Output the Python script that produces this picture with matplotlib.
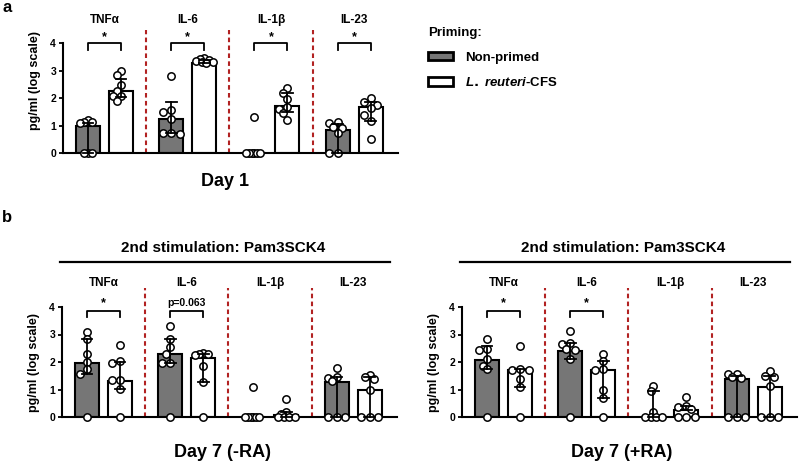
import numpy as np
import matplotlib.pyplot as plt
from matplotlib.patches import Patch

plt.rcParams['font.family'] = ['Liberation Sans', 'DejaVu Sans']
plt.rcParams['font.weight'] = 'bold'
plt.rcParams['axes.labelweight'] = 'bold'
plt.rcParams['mathtext.fontset'] = 'custom'
plt.rcParams['mathtext.it'] = 'Liberation Sans:italic:bold'

cytokines = ['TNFα', 'IL-6', 'IL-1β', 'IL-23']

# panel a : Day 1
a_np_pts = [[1.2, 1.14, 1.12, 1.1, 0, 0, 0],
            [2.81, 1.56, 1.5, 1.22, 0.72, 0.72, 0.7],
            [1.3, 0, 0, 0, 0, 0, 0],
            [1.14, 1.08, 0.94, 0.92, 0.72, 0, 0]]
a_np_bar = [0.99, 1.22, 0.0, 0.84]
a_np_lo = [0, 0.72, 0, 0]
a_np_hi = [1.08, 1.87, 0, 1.04]
a_cf_pts = [[2.99, 2.84, 2.47, 2.27, 2.08, 2.06, 1.9],
            [3.45, 3.42, 3.38, 3.35, 3.32, 3.3, 3.27],
            [2.35, 2.17, 1.95, 1.67, 1.6, 1.44, 1.2],
            [1.99, 1.87, 1.75, 1.63, 1.38, 1.17, 0.5]]
a_cf_bar = [2.25, 3.28, 1.71, 1.66]
a_cf_lo = [2.05, 3.28, 1.5, 1.17]
a_cf_hi = [2.68, 3.38, 2.17, 1.87]
a_sig = ['*', '*', '*', '*']

# panel b left : Day 7 (-RA)
m_np_pts = [[3.08, 2.82, 2.28, 2.01, 1.75, 1.56, 0],
            [3.31, 2.82, 2.55, 2.3, 1.98, 1.95, 0],
            [1.08, 0, 0, 0, 0, 0, 0],
            [1.77, 1.47, 1.42, 1.31, 0, 0, 0]]
m_np_bar = [1.97, 2.28, 0, 1.28]
m_np_lo = [1.56, 1.97, 0, 0]
m_np_hi = [2.82, 2.82, 0, 1.45]
m_cf_pts = [[2.62, 2.02, 1.98, 1.36, 1.33, 1.02, 0],
            [2.34, 2.3, 2.28, 2.26, 1.85, 1.28, 0],
            [0.65, 0.17, 0.1, 0, 0, 0, 0],
            [1.54, 1.45, 1.39, 1.0, 0, 0, 0]]
m_cf_bar = [1.31, 2.14, 0.08, 1.0]
m_cf_lo = [1.02, 1.28, 0, 0]
m_cf_hi = [2.0, 2.28, 0.17, 1.45]
m_sig = ['*', 'p=0.063', '', '']

# panel b right : Day 7 (+RA)
p_np_pts = [[2.84, 2.48, 2.45, 2.1, 1.87, 1.75, 0],
            [3.14, 2.7, 2.66, 2.46, 2.44, 2.1, 0],
            [1.13, 0.95, 0.2, 0, 0, 0, 0],
            [1.58, 1.57, 1.45, 1.42, 0, 0, 0]]
p_np_bar = [2.07, 2.41, 0, 1.38]
p_np_lo = [1.75, 2.1, 0, 0]
p_np_hi = [2.59, 2.7, 0.95, 1.5]
p_cf_pts = [[2.59, 1.74, 1.72, 1.7, 1.38, 1.08, 0],
            [2.28, 2.02, 1.75, 1.72, 1.0, 0.7, 0],
            [0.74, 0.4, 0.38, 0.3, 0, 0, 0],
            [1.68, 1.5, 1.46, 1.13, 0, 0, 0]]
p_cf_bar = [1.71, 1.71, 0.27, 1.08]
p_cf_lo = [1.1, 0.7, 0.25, 0]
p_cf_hi = [1.73, 2.02, 0.4, 1.5]
p_sig = ['*', '*', '', '']

GRAY = '#767676'
RED = '#b22222'
SPACING = 2.52
XPX, YPX = 33.0, 27.5  # pixels per data unit (for the swarm layout)


def swarm(vals, step=0.2, min_d=7.0, max_off=0.26):
    # simple beeswarm: centre first, then alternate left / right,
    # squeezed so that the widest row stays inside the bar
    offs = [0.0]
    for k in range(1, 10):
        offs += [-k * step, k * step]
    placed = []
    res = [0.0] * len(vals)
    for i in sorted(range(len(vals)), key=lambda k: -vals[k]):
        v = vals[i]
        for o in offs:
            if all(np.hypot((o - px) * XPX, (v - py) * YPX) >= min_d for px, py in placed):
                break
        placed.append((o, v))
        res[i] = o
    res = np.array(res)
    widest = np.abs(res).max()
    if widest > max_off:
        res = res * max_off / widest
    return res


def draw_group(ax, x, pts, bar, lo, hi, color):
    ax.bar(x, bar, width=0.73, color=color, edgecolor='black', linewidth=1.5, zorder=1)
    xs = x + swarm(pts)
    ax.plot(xs, pts, 'o', ms=5.3, mfc='white', mec='black', mew=1.1, zorder=3, clip_on=False)
    if hi > lo:
        ax.plot([x, x], [lo, hi], color='black', lw=1.3, zorder=4, clip_on=False)
        ax.plot([x - 0.16, x + 0.16], [hi, hi], color='black', lw=1.3, zorder=4, clip_on=False)
        ax.plot([x - 0.16, x + 0.16], [lo, lo], color='black', lw=1.3, zorder=4, clip_on=False)


def draw_panel(ax, np_pts, np_bar, np_lo, np_hi, cf_pts, cf_bar, cf_lo, cf_hi, sig,
               br_y, br_drop, star_y, title_y, red_top, label_y):
    for i in range(4):
        xg = i * SPACING
        xw = xg + 1
        draw_group(ax, xg, np_pts[i], np_bar[i], np_lo[i], np_hi[i], GRAY)
        draw_group(ax, xw, cf_pts[i], cf_bar[i], cf_lo[i], cf_hi[i], 'white')
        ax.text(xg + 0.5, title_y, cytokines[i], ha='center', va='center', fontsize=8.5)
        if i < 3:
            xr = xw + (SPACING - 1) / 2
            ax.plot([xr, xr], [0, red_top], color=RED, lw=1.5, ls=(0, (2.2, 1.6)), clip_on=False)
        if sig[i]:
            ax.plot([xg, xg, xw, xw], [br_drop, br_y, br_y, br_drop], color='black', lw=1.3,
                    clip_on=False)
            fs = 9 if sig[i] == '*' else 7.5
            ax.text(xg + 0.5, star_y, sig[i], ha='center', va='center', fontsize=fs)
    ax.set_xlim(-0.76, 9.39)
    ax.set_ylim(0, 4)
    ax.set_yticks([0, 1, 2, 3, 4])
    ax.set_xticks([])
    ax.spines['top'].set_visible(False)
    ax.spines['right'].set_visible(False)
    ax.spines['left'].set_linewidth(1.5)
    ax.spines['bottom'].set_linewidth(1.5)
    ax.tick_params(axis='y', labelsize=7.5, width=1.3, length=3, pad=2)
    ax.set_ylabel('pg/ml (log scale)', fontsize=9)
    ax.yaxis.set_label_coords(-0.066, label_y)


fig = plt.figure(figsize=(8, 4.65), dpi=100)
W, H = 800.0, 465.0
ax_a = fig.add_axes([63 / W, 1 - 153 / H, 335 / W, 110 / H])
ax_m = fig.add_axes([62 / W, 1 - 417 / H, 335 / W, 110 / H])
ax_p = fig.add_axes([462 / W, 1 - 417 / H, 335 / W, 110 / H])

draw_panel(ax_a, a_np_pts, a_np_bar, a_np_lo, a_np_hi, a_cf_pts, a_cf_bar, a_cf_lo, a_cf_hi,
           a_sig, 4.0, 3.75, 4.2, 4.85, 4.47, 0.66)
draw_panel(ax_m, m_np_pts, m_np_bar, m_np_lo, m_np_hi, m_cf_pts, m_cf_bar, m_cf_lo, m_cf_hi,
           m_sig, 3.87, 3.64, 4.15, 4.87, 4.69, 0.5)
draw_panel(ax_p, p_np_pts, p_np_bar, p_np_lo, p_np_hi, p_cf_pts, p_cf_bar, p_cf_lo, p_cf_hi,
           p_sig, 3.87, 3.64, 4.15, 4.87, 4.69, 0.5)

# panel letters and x titles
fig.text(7 / W, 1 - 8 / H, 'a', fontsize=12, ha='center', va='center')
fig.text(7 / W, 1 - 217 / H, 'b', fontsize=12, ha='center', va='center')
fig.text(225 / W, 1 - 182 / H, 'Day 1', fontsize=13, ha='center', va='center')
fig.text(222 / W, 1 - 452 / H, 'Day 7 (-RA)', fontsize=13, ha='center', va='center')
fig.text(622 / W, 1 - 452 / H, 'Day 7 (+RA)', fontsize=13, ha='center', va='center')

# second stimulation headers
for xc, x0, x1 in [(223, 60, 390), (623, 460, 790)]:
    fig.text(xc / W, 1 - 248 / H, '2nd stimulation: Pam3SCK4', fontsize=11, ha='center', va='center')
    fig.add_artist(plt.Line2D([x0 / W, x1 / W], [1 - 262 / H, 1 - 262 / H], color='black',
                              lw=1.6, transform=fig.transFigure))

# legend
handles = [Patch(facecolor=GRAY, edgecolor='black', linewidth=2),
           Patch(facecolor='white', edgecolor='black', linewidth=2)]
labels = ['Non-primed', r'$\mathit{L.}$ $\mathit{reuteri}$-CFS']
leg = fig.legend(handles, labels, title='Priming:', loc='upper left',
                 bbox_to_anchor=(428 / W, 1 - 27 / H), frameon=False, fontsize=9.5,
                 title_fontproperties={'weight': 'bold', 'size': 9.5}, alignment='left',
                 handlelength=1.9, handleheight=0.6, handletextpad=0.9, labelspacing=0.95,
                 borderpad=0, borderaxespad=0)

fig.savefig('out.png', dpi=100)
